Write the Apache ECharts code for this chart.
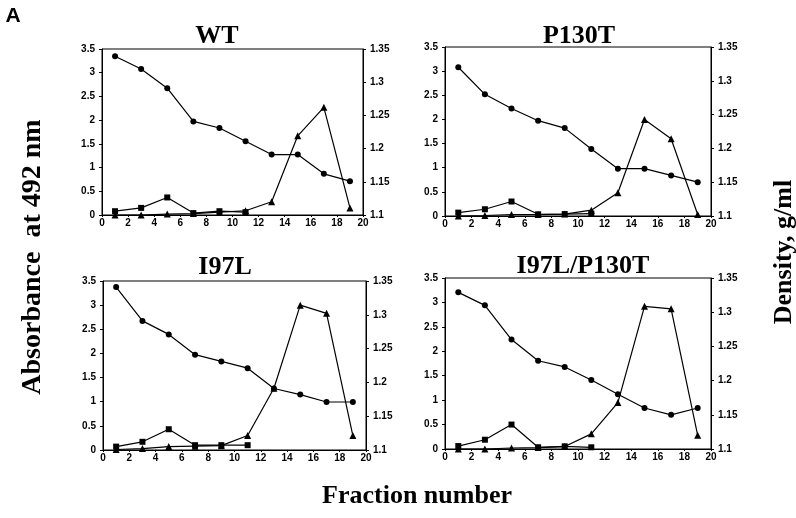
<!DOCTYPE html>
<html>
<head>
<meta charset="utf-8">
<script src="https://cdn.jsdelivr.net/npm/echarts@6/dist/echarts.min.js"></script>
<style>html,body{margin:0;padding:0;background:#fff;}#c{width:796px;height:518px;}</style>
</head>
<body>
<div id="c"></div>
<script>
// Fractions
const fractions = [1, 3, 5, 7, 9, 11, 13, 15, 17, 19];
const squareFractions = [1, 3, 5, 7, 9, 11];

// Panel titles
const panelTitles = ['WT', 'P130T', 'I97L', 'I97L/P130T'];

// Density (g/ml), circles, right axis
const wtDensity    = [1.339, 1.320, 1.291, 1.241, 1.231, 1.211, 1.191, 1.191, 1.162, 1.151];
const p130tDensity = [1.320, 1.280, 1.259, 1.241, 1.230, 1.199, 1.170, 1.170, 1.160, 1.150];
const i97lDensity  = [1.341, 1.291, 1.271, 1.241, 1.231, 1.221, 1.191, 1.182, 1.171, 1.171];
const dblDensity   = [1.329, 1.310, 1.260, 1.229, 1.220, 1.201, 1.180, 1.160, 1.150, 1.160];

// Absorbance at 492 nm, triangles
const wtTriangle    = [0.00, 0.00, 0.02, 0.03, 0.06, 0.09, 0.28, 1.67, 2.27, 0.15];
const p130tTriangle = [0.00, 0.01, 0.03, 0.03, 0.04, 0.12, 0.48, 2.00, 1.60, 0.03];
const i97lTriangle  = [0.01, 0.03, 0.07, 0.08, 0.09, 0.30, 1.28, 3.00, 2.83, 0.30];
const dblTriangle   = [0.00, 0.00, 0.02, 0.03, 0.05, 0.31, 0.95, 2.92, 2.87, 0.28];

// Absorbance at 492 nm, squares
const wtSquare    = [0.08, 0.15, 0.37, 0.04, 0.08, 0.06];
const p130tSquare = [0.07, 0.14, 0.30, 0.035, 0.04, 0.05];
const i97lSquare  = [0.07, 0.17, 0.43, 0.10, 0.10, 0.10];
const dblSquare   = [0.06, 0.19, 0.50, 0.035, 0.055, 0.035];

const densities = [wtDensity, p130tDensity, i97lDensity, dblDensity];
const triangles = [wtTriangle, p130tTriangle, i97lTriangle, dblTriangle];
const squares = [wtSquare, p130tSquare, i97lSquare, dblSquare];

const grids = [
  {left: 102, right: 433, top: 49, bottom: 303},
  {left: 445, right: 85, top: 47, bottom: 302},
  {left: 103, right: 430, top: 281, bottom: 68},
  {left: 445, right: 85, top: 278, bottom: 69}
];
const titlePos = [[217, 36], [579, 36], [225, 267], [583, 266]];

const lblFont = {color: '#000', fontSize: 10, fontWeight: 'bold', fontFamily: 'Liberation Sans'};

const option = {
  animation: false,
  backgroundColor: '#fff',
  grid: grids.map(g => Object.assign({show: true, borderColor: '#000', borderWidth: 1, backgroundColor: 'transparent'}, g)),
  xAxis: grids.map((g, i) => ({
    type: 'value', gridIndex: i, min: 0, max: 20, interval: 2,
    axisLine: {show: true, lineStyle: {color: '#000', width: 1}},
    axisTick: {show: true, length: 2, lineStyle: {color: '#000'}},
    axisLabel: Object.assign({margin: 3}, lblFont),
    splitLine: {show: false}
  })),
  yAxis: [].concat(...grids.map((g, i) => [
    {
      type: 'value', gridIndex: i, min: 0, max: 3.5, interval: 0.5, position: 'left',
      axisLine: {show: true, lineStyle: {color: '#000', width: 1}},
      axisTick: {show: true, length: 3, lineStyle: {color: '#000'}},
      axisLabel: Object.assign({margin: 7}, lblFont),
      splitLine: {show: false}
    },
    {
      type: 'value', gridIndex: i, min: 1.1, max: 1.35, interval: 0.05, position: 'right',
      axisLine: {show: true, lineStyle: {color: '#000', width: 1}},
      axisTick: {show: true, length: 3, lineStyle: {color: '#000'}},
      axisLabel: Object.assign({margin: 7}, lblFont),
      splitLine: {show: false}
    }
  ])),
  series: [].concat(...grids.map((g, i) => [
    {
      type: 'line', xAxisIndex: i, yAxisIndex: 2 * i + 1,
      data: fractions.map((f, k) => [f, densities[i][k]]),
      symbol: 'circle', symbolSize: 6,
      lineStyle: {color: '#000', width: 1.2}, itemStyle: {color: '#000'}, z: 3
    },
    {
      type: 'line', xAxisIndex: i, yAxisIndex: 2 * i,
      data: fractions.map((f, k) => [f, triangles[i][k]]),
      symbol: 'triangle', symbolSize: 7,
      lineStyle: {color: '#000', width: 1.2}, itemStyle: {color: '#000'}, z: 3
    },
    {
      type: 'line', xAxisIndex: i, yAxisIndex: 2 * i,
      data: squareFractions.map((f, k) => [f, squares[i][k]]),
      symbol: 'rect', symbolSize: 6,
      lineStyle: {color: '#000', width: 1.2}, itemStyle: {color: '#000'}, z: 3
    }
  ])),
  graphic: [
    ...panelTitles.map((t, i) => ({
      type: 'text', x: titlePos[i][0], y: titlePos[i][1],
      style: {text: t, fill: '#000', font: 'bold 26px "Liberation Serif"', align: 'center', verticalAlign: 'middle', textAlign: 'center', textVerticalAlign: 'middle'}
    })),
    {type: 'text', x: 13, y: 16, style: {text: 'A', fill: '#000', font: 'bold 21px "Liberation Sans"', align: 'center', verticalAlign: 'middle', textAlign: 'center', textVerticalAlign: 'middle'}},
    {type: 'text', x: 33, y: 257, rotation: Math.PI / 2, style: {text: 'Absorbance  at 492 nm', fill: '#000', font: 'bold 28px "Liberation Serif"', align: 'center', verticalAlign: 'middle', textAlign: 'center', textVerticalAlign: 'middle'}},
    {type: 'text', x: 784, y: 252, rotation: Math.PI / 2, style: {text: 'Density, g/ml', fill: '#000', font: 'bold 26px "Liberation Serif"', align: 'center', verticalAlign: 'middle', textAlign: 'center', textVerticalAlign: 'middle'}},
    {type: 'text', x: 417, y: 496, style: {text: 'Fraction number', fill: '#000', font: 'bold 26px "Liberation Serif"', align: 'center', verticalAlign: 'middle', textAlign: 'center', textVerticalAlign: 'middle'}}
  ]
};

const chart = echarts.init(document.getElementById('c'), null, {renderer: 'canvas'});
chart.setOption(option);
</script>
</body>
</html>
